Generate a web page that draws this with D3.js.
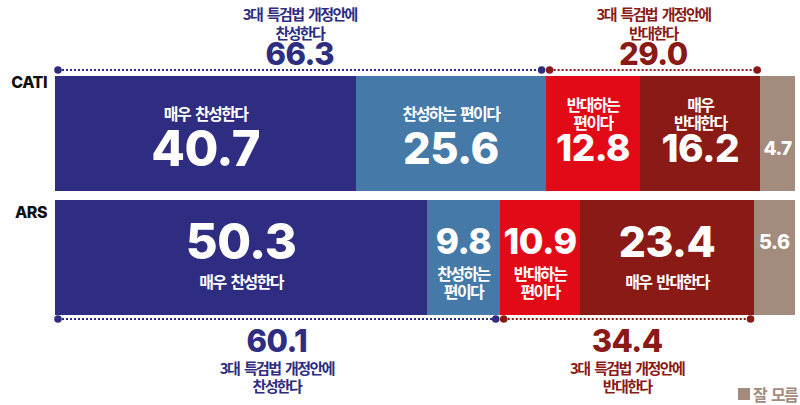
<!DOCTYPE html>
<html lang="ko">
<head>
    <meta charset="UTF-8">
    <title>3대 특검법 개정안 찬반</title>
    <script src="https://d3js.org/d3.v7.min.js"></script>
    <style>
        body {
            margin: 0;
            background-color: #ffffff;
        }
        .num {
            font-family: Inter, "Noto Sans CJK KR", sans-serif;
            font-weight: 800;
            letter-spacing: -0.5px;
        }
        .kr {
            font-family: "Noto Sans CJK KR", sans-serif;
            font-weight: 700;
            letter-spacing: -1.6px;
            word-spacing: 2px;
        }
    </style>
</head>
<body>
    <svg id="chart" width="800" height="405"></svg>
    <script>
        // Data
        const methods = ["CATI", "ARS"];
        const responses = ["매우 찬성한다", "찬성하는 편이다", "반대하는 편이다", "매우 반대한다", "잘 모름"];
        const catiValues = [40.7, 25.6, 12.8, 16.2, 4.7];
        const arsValues = [50.3, 9.8, 10.9, 23.4, 5.6];
        const agreeTotals = [66.3, 60.1];
        const opposeTotals = [29.0, 34.4];
        const totalCaption = "3대 특검법 개정안에";
        const agreeCaption = "찬성한다";
        const opposeCaption = "반대한다";
        const legendLabel = "잘 모름";

        const width = 800;
        const height = 405;
        const svg = d3.select("#chart");

        const x = d3.scaleLinear().domain([0, 100]).range([55, 795]);
        const y = d3.scaleBand().domain(methods).range([76, 315]).paddingInner(0.065);
        const color = d3.scaleOrdinal()
            .domain(responses)
            .range(["#2e2d82", "#457aa8", "#e20a16", "#8a1a16", "#a38b7d"]);
        const navy = "#2e2d82";
        const darkRed = "#8a1a16";

        // value font size grows with the segment width
        const valueSize = d3.scaleLinear().domain([40, 70, 180, 300]).range([19, 35, 43, 49]).clamp(true);

        const rows = [catiValues, arsValues].map((vals, r) => {
            let acc = 0;
            return vals.map((v, i) => {
                const seg = { method: methods[r], row: r, response: responses[i], value: v, x0: acc, x1: acc + v };
                acc += v;
                return seg;
            });
        });
        const segments = rows.flat();

        // bars (rounded edges so neighbours meet without a seam)
        svg.append("g")
            .selectAll("rect")
            .data(segments)
            .enter()
            .append("rect")
            .attr("x", d => Math.round(x(d.x0)))
            .attr("y", d => Math.round(y(d.method)))
            .attr("width", d => Math.round(x(d.x1)) - Math.round(x(d.x0)))
            .attr("height", Math.round(y.bandwidth()))
            .attr("fill", d => color(d.response));

        // labels inside the bars
        const inner = svg.append("g")
            .selectAll("g")
            .data(segments)
            .enter()
            .append("g")
            .attr("transform", d => `translate(${(x(d.x0) + x(d.x1)) / 2},${y(d.method)})`);

        inner.append("text")
            .attr("class", "num")
            .attr("text-anchor", "middle")
            .attr("fill", "#fff")
            .attr("font-size", d => valueSize(x(d.x1) - x(d.x0)))
            .attr("y", d => {
                const s = valueSize(x(d.x1) - x(d.x0));
                const c = d.row === 0 ? 72 : 42;
                return c + s * 0.36;
            })
            .text(d => d.value.toFixed(1));

        inner.each(function (d) {
            const w = x(d.x1) - x(d.x0);
            if (w < 50) return;
            const lines = w < 150 ? d.response.split(" ") : [d.response];
            let centers;
            if (d.row === 0) centers = lines.length > 1 ? [28, 46] : [37];
            else centers = lines.length > 1 ? [73, 91] : [81];
            d3.select(this).selectAll("text.kr")
                .data(lines)
                .enter()
                .append("text")
                .attr("class", "kr")
                .attr("text-anchor", "middle")
                .attr("dominant-baseline", "central")
                .attr("fill", "#fff")
                .attr("font-size", 16)
                .attr("y", (t, k) => centers[k])
                .text(t => t);
        });

        // method labels
        svg.append("g")
            .selectAll("text")
            .data(methods)
            .enter()
            .append("text")
            .attr("class", "num")
            .attr("x", 47)
            .attr("y", d => y(d) + 12 + (d === "ARS" ? 6 : 0))
            .attr("text-anchor", "end")
            .attr("font-size", 16)
            .attr("fill", "#111")
            .text(d => d);

        // brackets with totals
        const brackets = [];
        methods.forEach((m, r) => {
            const agreeEnd = rows[r][1].x1;
            const opposeEnd = rows[r][3].x1;
            const by = r === 0 ? y(m) - 6 : y(m) + y.bandwidth() + 4;
            brackets.push({ row: r, x0: x(0) + 3, x1: x(agreeEnd) - 4, y: by, color: navy, total: agreeTotals[r], caption: agreeCaption });
            brackets.push({ row: r, x0: x(agreeEnd) + 4, x1: x(opposeEnd) - 3, y: by, color: darkRed, total: opposeTotals[r], caption: opposeCaption });
        });

        const bg = svg.append("g")
            .selectAll("g")
            .data(brackets)
            .enter()
            .append("g");

        bg.append("line")
            .attr("x1", d => d.x0)
            .attr("x2", d => d.x1)
            .attr("y1", d => d.y)
            .attr("y2", d => d.y)
            .attr("stroke", d => d.color)
            .attr("stroke-width", 2)
            .attr("stroke-dasharray", "2,2");

        bg.selectAll("circle")
            .data(d => [d, d].map((b, k) => ({ cx: k ? b.x1 : b.x0, cy: b.y, color: b.color })))
            .enter()
            .append("circle")
            .attr("cx", d => d.cx)
            .attr("cy", d => d.cy)
            .attr("r", 3.8)
            .attr("fill", d => d.color);

        bg.append("text")
            .attr("class", "num")
            .attr("text-anchor", "middle")
            .attr("x", d => (d.x0 + d.x1) / 2)
            .attr("y", d => d.row === 0 ? d.y - 5 : d.y + 33)
            .attr("font-size", 31)
            .attr("fill", d => d.color)
            .text(d => d.total.toFixed(1));

        bg.each(function (d) {
            const centers = d.row === 0 ? [d.y - 57, d.y - 38] : [d.y + 48, d.y + 66];
            d3.select(this).selectAll("text.kr")
                .data([totalCaption, d.caption])
                .enter()
                .append("text")
                .attr("class", "kr")
                .attr("text-anchor", "middle")
                .attr("dominant-baseline", "central")
                .attr("x", (d.x0 + d.x1) / 2)
                .attr("y", (t, k) => centers[k])
                .attr("font-size", 15)
                .attr("fill", d.color)
                .text(t => t);
        });

        // legend
        const legend = svg.append("g").attr("transform", "translate(738,388)");
        legend.append("rect")
            .attr("width", 12)
            .attr("height", 12)
            .attr("fill", color(legendLabel));
        legend.append("text")
            .attr("class", "kr")
            .attr("x", 15)
            .attr("y", 6)
            .attr("dominant-baseline", "central")
            .attr("font-size", 16)
            .attr("fill", color(legendLabel))
            .text(legendLabel);
    </script>
</body>
</html>
